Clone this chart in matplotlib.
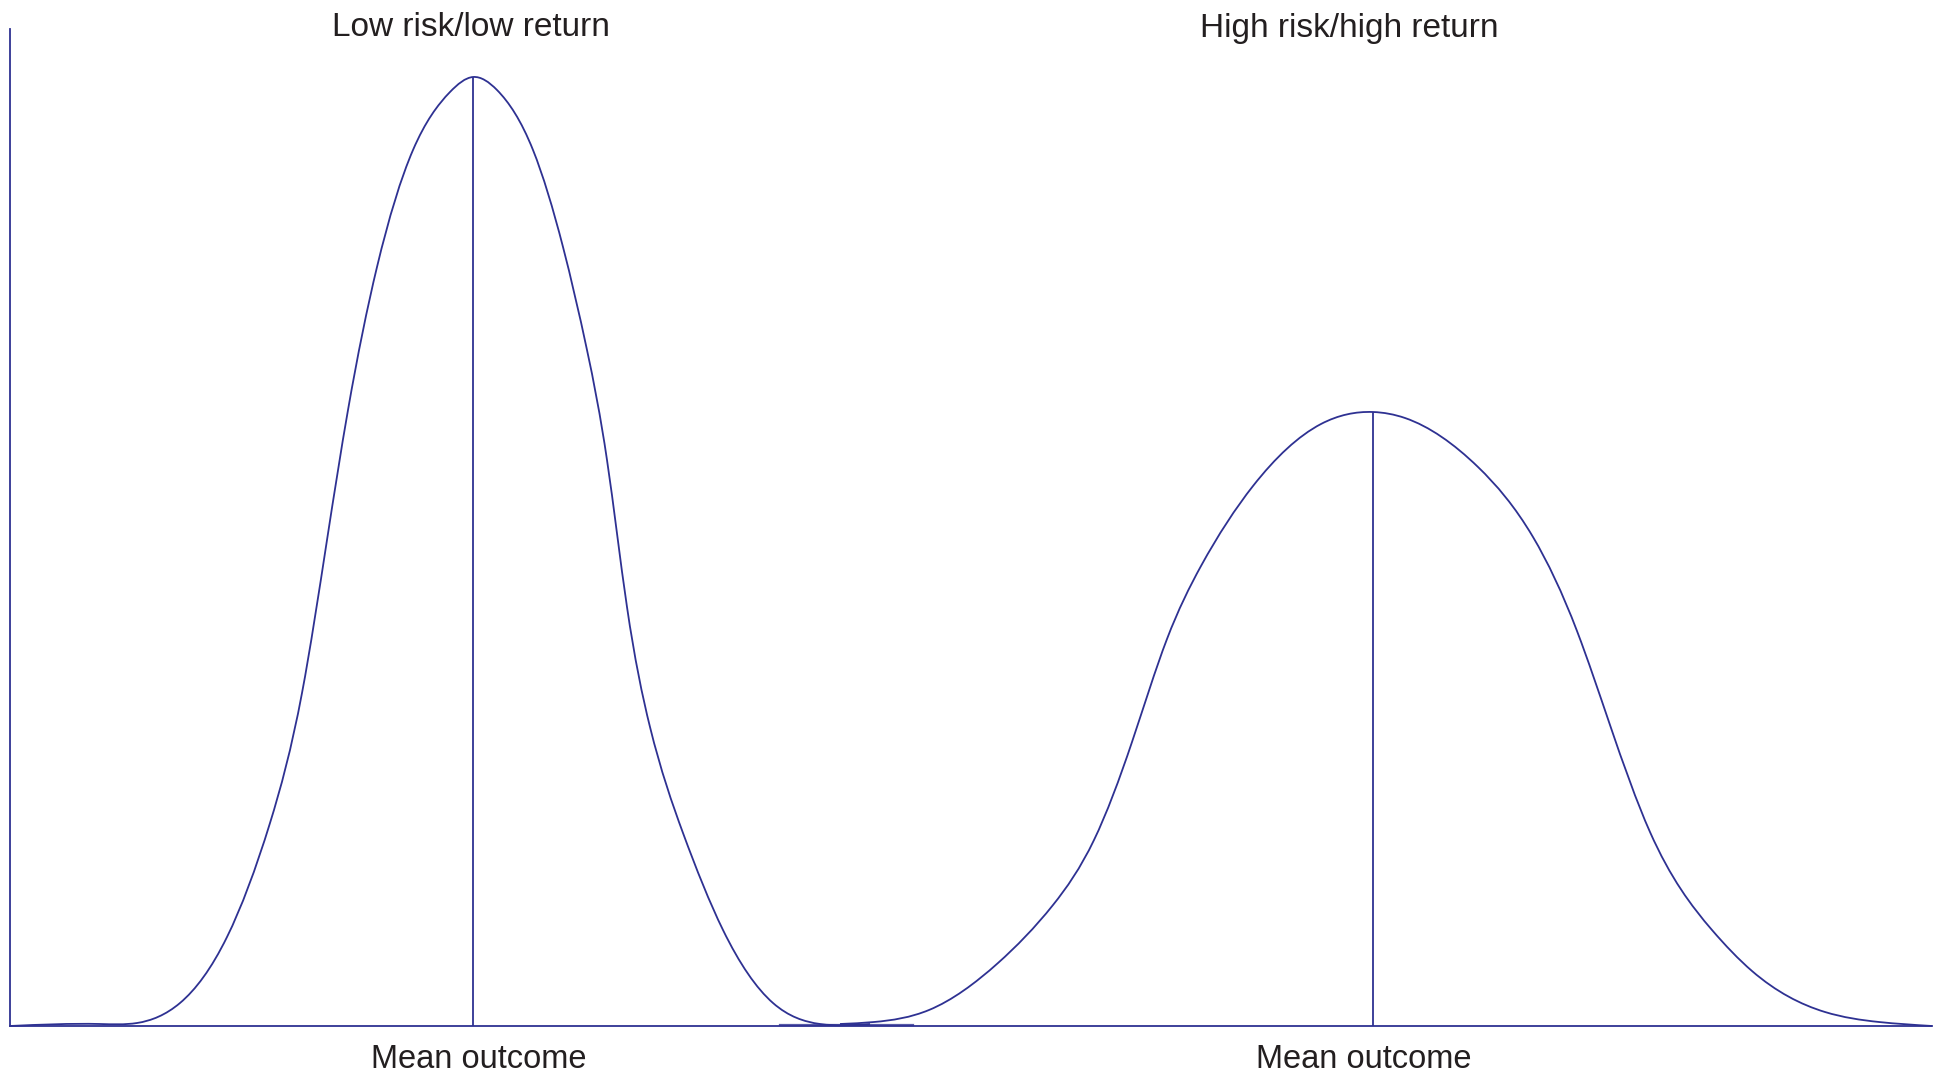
import matplotlib
matplotlib.use("Agg")
import matplotlib.pyplot as plt
import numpy as np
from matplotlib.path import Path
from matplotlib.patches import PathPatch

# ---- data (outcome units, density units) ----
low_x = [0, 90, 127, 170, 217, 260, 292, 317, 338, 367, 403, 440, 463,
         487, 523, 553, 577, 597, 617, 640, 673, 713, 763, 810, 860]
low_y = [0, 2, 3, 23, 89, 203, 333, 486, 616, 759, 876, 934, 949,
         936, 876, 779, 676, 566, 419, 299, 193, 96, 23, 2, 2]

high_x = [830, 864, 919, 988, 1043, 1084, 1122, 1157, 1191, 1243, 1311, 1363,
          1395, 1468, 1523, 1567, 1600, 1640, 1702, 1742, 1815, 1869, 1922]
high_y = [2, 4, 16, 63, 121, 186, 284, 387, 460, 540, 602, 614,
          608, 559, 489, 395, 301, 194, 96, 55, 14, 4, 0]

means = [463, 1363]
peaks = [949, 614]
titles = ["Low risk/low return", "High risk/high return"]
mean_label = "Mean outcome"
gap_seg_x = [770, 903]
gap_seg_y = [1, 1]

LINE = "#2e3192"
TEXT = "#231f20"
W, H = 1942, 1078


def smooth_path(xs, ys):
    """Draw a smooth (C2, natural cubic spline) path through the read points,
    expressed as cubic Bezier segments for matplotlib's Path."""
    x = np.asarray(xs, float)
    y = np.asarray(ys, float)
    n = len(x)
    h = np.diff(x)
    d = np.diff(y) / h
    A = np.zeros((n, n))
    b = np.zeros(n)
    A[0, 0] = A[-1, -1] = 1.0
    for k in range(1, n - 1):
        A[k, k - 1] = h[k - 1]
        A[k, k] = 2 * (h[k - 1] + h[k])
        A[k, k + 1] = h[k]
        b[k] = 6 * (d[k] - d[k - 1])
    M = np.linalg.solve(A, b)
    verts = [(x[0], y[0])]
    codes = [Path.MOVETO]
    for k in range(n - 1):
        s0 = d[k] - h[k] * (2 * M[k] + M[k + 1]) / 6
        s1 = d[k] + h[k] * (M[k] + 2 * M[k + 1]) / 6
        t = h[k] / 3.0
        verts += [(x[k] + t, y[k] + s0 * t),
                  (x[k + 1] - t, y[k + 1] - s1 * t),
                  (x[k + 1], y[k + 1])]
        codes += [Path.CURVE4] * 3
    return Path(verts, codes)


fig = plt.figure(figsize=(W / 100, H / 100), dpi=100)
fig.patch.set_facecolor("white")
ax = fig.add_axes([10 / W, 52 / H, 1922 / W, 997 / H])
ax.set_xlim(0, 1922)
ax.set_ylim(0, 997)
for s in ["top", "right"]:
    ax.spines[s].set_visible(False)
for s in ["left", "bottom"]:
    ax.spines[s].set_color(LINE)
    ax.spines[s].set_linewidth(1.3)
ax.set_xticks([])
ax.set_yticks([])

for xs, ys in [(low_x, low_y), (high_x, high_y)]:
    ax.add_patch(PathPatch(smooth_path(xs, ys), facecolor="none", edgecolor=LINE,
                           lw=1.3, clip_on=False, joinstyle="round"))
ax.plot(gap_seg_x, gap_seg_y, color=LINE, lw=1.6, alpha=0.8, clip_on=False)
ax.vlines(means, 0, peaks, color=LINE, lw=1.3)

font = ["Liberation Sans", "DejaVu Sans"]
title_px = [(471, 27), (1349, 28)]
for (px, py), t in zip(title_px, titles):
    fig.text(px / W, 1 - py / H, t, ha="center", va="center", fontsize=24,
             color=TEXT, family=font)
label_px = [479, 1364]
for px in label_px:
    fig.text(px / W, 1 - 1059 / H, mean_label, ha="center", va="center", fontsize=23.5,
             color=TEXT, family=font)

fig.savefig("out.png", dpi=100, facecolor="white")
